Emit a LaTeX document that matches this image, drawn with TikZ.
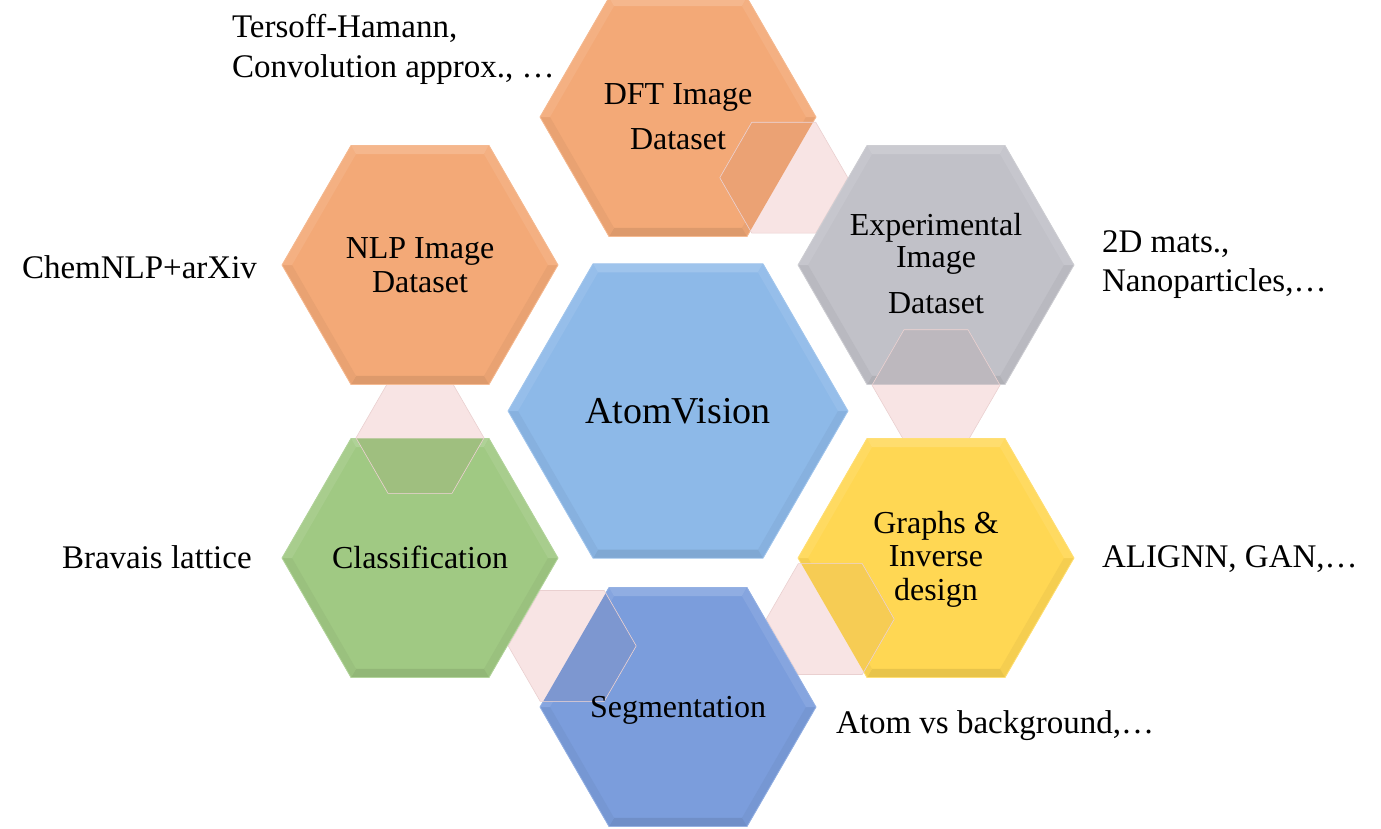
\documentclass[tikz,border=0pt]{standalone}
\usepackage{fontspec}
\setmainfont{Liberation Serif}
\usetikzlibrary{calc}

\definecolor{hexorange}{HTML}{F3A977}
\definecolor{hexgray}{HTML}{C1C1C8}
\definecolor{hexsky}{HTML}{8DB9E8}
\definecolor{hexyellow}{HTML}{FFD753}
\definecolor{hexgreen}{HTML}{A0C983}
\definecolor{hexblue}{HTML}{7B9DDC}
\definecolor{linkpink}{HTML}{F8E4E4}
\definecolor{linkedge}{HTML}{EAD0D0}
\definecolor{linktint}{HTML}{965A5A}

% outline of a flat-topped hexagon of circumradius #1 round the origin
\newcommand{\hexpath}[1]{(0:#1) -- (60:#1) -- (120:#1) -- (180:#1) -- (240:#1) -- (300:#1) -- cycle}

% Flat-topped hexagon with a bevelled rim: #1 centre, #2 circumradius, #3 colour
\newcommand{\bevelhex}[3]{%
  \begin{scope}[shift={#1}]
    \fill[#3] \hexpath{#2};
    % rim facets: lower right, bottom, lower left, upper left, top, upper right
    \foreach \a/\tone in {0/#3!96!black, 60/#3!91!black, 120/#3!96!black,
                          180/#3!92!white, 240/#3!84!white, 300/#3!92!white}{
      \fill[\tone] (\a:#2) -- (\a+60:#2) -- (\a+60:#2-10) -- (\a:#2-10) -- cycle;
    }
    \draw[#3!80!white, line width=0.8pt, line join=round] \hexpath{#2};
  \end{scope}}

% Small link hexagon lying over the cell before it:
% #1 link centre, #2 centre of that cell, #3 radius of that cell, #4 its colour
\newcommand{\linkhex}[4]{%
  \begin{scope}[shift={#1}]
    \fill[linkpink] \hexpath{64};
  \end{scope}
  \begin{scope}
    \clip[shift={#2}] \hexpath{#3};
    \fill[#4!91!linktint, shift={#1}] \hexpath{64};
  \end{scope}
  \begin{scope}[shift={#1}]
    \draw[linkedge, line width=0.6pt, line join=round] \hexpath{64};
  \end{scope}}

\tikzset{
  hextext/.style={font=\fontsize{32}{34}\selectfont, align=center, inner sep=0pt, outer sep=0pt, text=black},
  sidetext/.style={font=\fontsize{33}{40}\selectfont, align=left, inner sep=0pt, outer sep=0pt, text=black},
}

\begin{document}
\begin{tikzpicture}[x=1pt, y=-1pt]
  \path[use as bounding box] (0,0) rectangle (1381,828);
  \clip (0,0) rectangle (1381,828);

  % cell centres
  \coordinate (hub) at (678,411);
  \coordinate (dft) at (678,117);
  \coordinate (exp) at (936,265);
  \coordinate (gra) at (936,558);
  \coordinate (seg) at (678,707);
  \coordinate (cls) at (420,558);
  \coordinate (nlp) at (420,265);

  % link positions between consecutive outer cells
  \coordinate (l1) at ($(dft)!0.41!(exp)$);
  \coordinate (l2) at ($(exp)!0.41!(gra)$);
  \coordinate (l3) at ($(gra)!0.41!(seg)$);
  \coordinate (l4) at ($(seg)!0.41!(cls)$);
  \coordinate (l5) at ($(cls)!0.41!(nlp)$);

  % central cell
  \bevelhex{(hub)}{170}{hexsky}

  % outer ring, each link lying over one cell and under the next
  \bevelhex{(dft)}{138}{hexorange}
  \linkhex{(l1)}{(dft)}{138}{hexorange}
  \bevelhex{(exp)}{138}{hexgray}
  \linkhex{(l2)}{(exp)}{138}{hexgray}
  \bevelhex{(gra)}{138}{hexyellow}
  \linkhex{(l3)}{(gra)}{138}{hexyellow}
  \bevelhex{(seg)}{138}{hexblue}
  \linkhex{(l4)}{(seg)}{138}{hexblue}
  \bevelhex{(cls)}{138}{hexgreen}
  \linkhex{(l5)}{(cls)}{138}{hexgreen}
  \bevelhex{(nlp)}{138}{hexorange}

  % cell labels
  \node[hextext, font=\fontsize{38}{40}\selectfont, anchor=base] (hubText) at (678,423) {AtomVision};
  \node[hextext, font=\fontsize{32}{45}\selectfont] (dftText) at (678,117) {DFT Image\\Dataset};
  \node[hextext, font=\fontsize{32}{32}\selectfont] (expText) at (936,264) {Experimental\\Image\\[14pt]Dataset};
  \node[hextext, font=\fontsize{32}{33.5}\selectfont] (graText) at (936,559) {Graphs \&\\Inverse\\design};
  \node[hextext, anchor=base] (segText) at (678,717) {Segmentation};
  \node[hextext, anchor=base] (clsText) at (420,568) {Classification};
  \node[hextext] (nlpText) at (420,265) {NLP Image\\Dataset};

  % side notes
  \node[sidetext, anchor=west] (dftNote) at (232,49.4) {Tersoff-Hamann,\\Convolution approx., …};
  \node[sidetext, anchor=base west] (nlpNote) at (22,278) {ChemNLP+arXiv};
  \node[sidetext, font=\fontsize{33}{39}\selectfont, anchor=west] (expNote) at (1102,265) {2D mats.,\\Nanoparticles,…};
  \node[sidetext, anchor=base west] (graNote) at (1102,567) {ALIGNN, GAN,…};
  \node[sidetext, anchor=base west] (segNote) at (836,733) {Atom vs background,…};
  \node[sidetext, anchor=base west] (clsNote) at (62,568) {Bravais lattice};
\end{tikzpicture}
\end{document}
